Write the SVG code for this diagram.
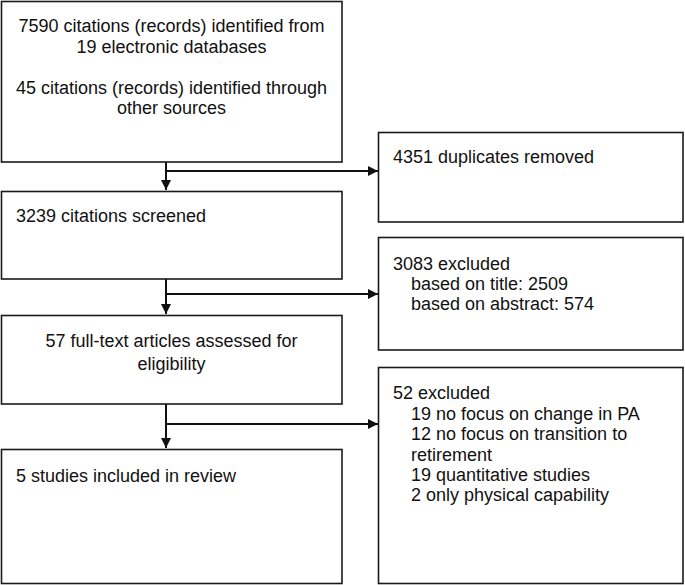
<svg xmlns="http://www.w3.org/2000/svg" width="685" height="585" viewBox="0 0 685 585">
<defs>
<style>
.box{fill:#fff;stroke:#1a1a1a;stroke-width:1.6}
.t{font-family:"Liberation Sans",Arial,sans-serif;font-size:18px;fill:#111}
.c{text-anchor:middle}
.ln{stroke:#111;stroke-width:2;fill:none}
</style>
<marker id="ah" viewBox="0 0 10 10" refX="10" refY="5" markerWidth="10" markerHeight="10" markerUnits="userSpaceOnUse" orient="auto">
<path d="M0,0 L10,5 L0,10 z" fill="#111"/>
</marker>
</defs>
<rect width="685" height="585" fill="#fff"/>
<g id="connectors">
<line class="ln" x1="166" y1="162" x2="166" y2="190" marker-end="url(#ah)"/>
<line class="ln" x1="166" y1="171" x2="378" y2="171" marker-end="url(#ah)"/>
<line class="ln" x1="166" y1="279" x2="166" y2="314" marker-end="url(#ah)"/>
<line class="ln" x1="166" y1="294" x2="378" y2="294" marker-end="url(#ah)"/>
<line class="ln" x1="166" y1="404" x2="166" y2="448" marker-end="url(#ah)"/>
<line class="ln" x1="166" y1="424" x2="378" y2="424" marker-end="url(#ah)"/>
</g>
<g id="identified">
<rect class="box" x="1.5" y="1.5" width="340.5" height="160.5"/>
<text class="t c" x="171.5" y="32">7590 citations (records) identified from</text>
<text class="t c" x="171.5" y="53">19 electronic databases</text>
<text class="t c" x="171.5" y="94">45 citations (records) identified through</text>
<text class="t c" x="171.5" y="114">other sources</text>
</g>
<g id="duplicates">
<rect class="box" x="378.5" y="132.5" width="304.5" height="89.5"/>
<text class="t" x="393" y="163">4351 duplicates removed</text>
</g>
<g id="screened">
<rect class="box" x="1.5" y="191.5" width="340.5" height="87.5"/>
<text class="t" x="16" y="222">3239 citations screened</text>
</g>
<g id="excluded1">
<rect class="box" x="378.5" y="237.5" width="304.5" height="112.5"/>
<text class="t" x="393" y="270">3083 excluded</text>
<text class="t" x="411" y="290">based on title: 2509</text>
<text class="t" x="411" y="310">based on abstract: 574</text>
</g>
<g id="fulltext">
<rect class="box" x="1.5" y="315.5" width="340.5" height="88.5"/>
<text class="t c" x="171.5" y="347">57 full-text articles assessed for</text>
<text class="t c" x="171.5" y="370">eligibility</text>
</g>
<g id="excluded2">
<rect class="box" x="378.5" y="367.5" width="304.5" height="216"/>
<text class="t" x="393" y="399">52 excluded</text>
<text class="t" x="411" y="420">19 no focus on change in PA</text>
<text class="t" x="411" y="440">12 no focus on transition to</text>
<text class="t" x="411" y="461">retirement</text>
<text class="t" x="411" y="481">19 quantitative studies</text>
<text class="t" x="411" y="501">2 only physical capability</text>
</g>
<g id="included">
<rect class="box" x="1.5" y="449.5" width="340.5" height="134"/>
<text class="t" x="16" y="482">5 studies included in review</text>
</g>
</svg>
